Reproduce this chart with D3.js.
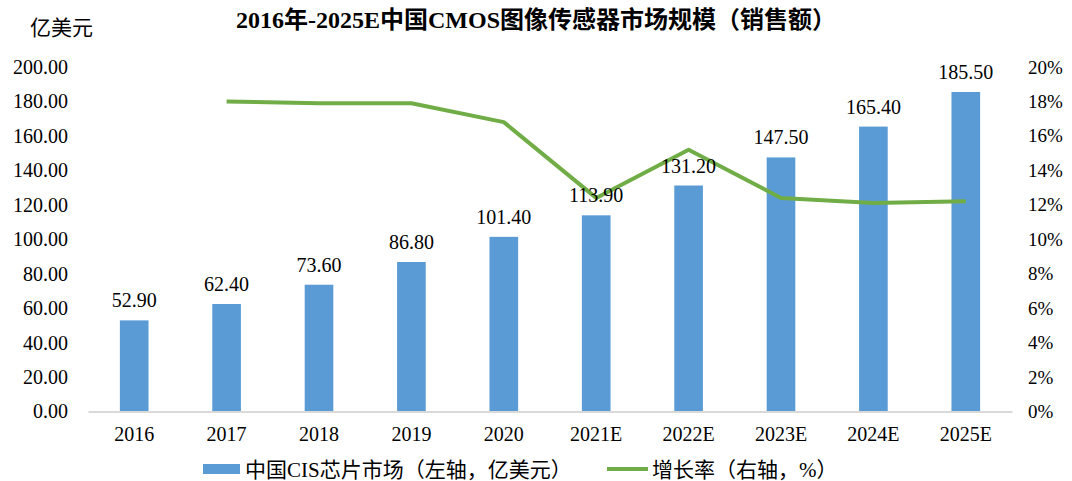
<!DOCTYPE html>
<html>
<head>
<meta charset="utf-8">
<script src="https://cdn.jsdelivr.net/npm/d3@7"></script>
<style>
  body { margin: 0; background: #fff; }
</style>
</head>
<body>
<svg id="chart"></svg>
<script>
var years = ["2016", "2017", "2018", "2019", "2020", "2021E", "2022E", "2023E", "2024E", "2025E"];
var sales = [52.9, 62.4, 73.6, 86.8, 101.4, 113.9, 131.2, 147.5, 165.4, 185.5];
var growth = [null, 18.0, 17.9, 17.9, 16.8, 12.4, 15.2, 12.4, 12.1, 12.2];
var leftTicks = [0, 20, 40, 60, 80, 100, 120, 140, 160, 180, 200];
var rightTicks = [0, 2, 4, 6, 8, 10, 12, 14, 16, 18, 20];

var FONT = "'Liberation Serif', 'Noto Sans CJK SC', serif";
var W = 1072, H = 481;
var margin = {top: 67, right: 60, bottom: 70, left: 88},
    width = W - margin.left - margin.right,
    height = 411.5 - margin.top;

var svg = d3.select("#chart").attr("width", W).attr("height", H)
  .style("font-family", FONT);
var g = svg.append("g").attr("transform", "translate(" + margin.left + "," + margin.top + ")");

var x = d3.scaleBand().domain(years).range([0, width]).paddingInner(0.69).paddingOuter(0.345);
var y = d3.scaleLinear().domain([0, 200]).range([height, 0]);
var y2 = d3.scaleLinear().domain([0, 20]).range([height, 0]);

// title
svg.append("text")
  .attr("x", W / 2).attr("y", 28)
  .attr("text-anchor", "middle")
  .style("font-size", "24px").style("font-weight", "bold")
  .text("2016年-2025E中国CMOS图像传感器市场规模（销售额）");

svg.append("text")
  .attr("x", 30).attr("y", 35)
  .style("font-size", "21px")
  .text("亿美元");

// left axis
var yAxis = g.append("g")
  .call(d3.axisLeft(y).tickValues(leftTicks).tickFormat(d3.format(".2f")).tickSize(0).tickPadding(20));
yAxis.attr("font-family", null).attr("font-size", null);
yAxis.select(".domain").remove();
yAxis.selectAll("text").style("font-size", "20px").style("font-family", FONT).attr("fill", "#000");

// right axis
var y2Axis = g.append("g")
  .attr("transform", "translate(" + width + ",0)")
  .call(d3.axisRight(y2).tickValues(rightTicks).tickFormat(d => d + "%").tickSize(0).tickPadding(16));
y2Axis.attr("font-family", null).attr("font-size", null);
y2Axis.select(".domain").remove();
y2Axis.selectAll("text").style("font-size", "19px").style("font-family", FONT).attr("fill", "#000");

// bars
g.selectAll(".bar")
  .data(years)
  .enter().append("rect")
  .attr("class", "bar")
  .attr("fill", "#5B9BD5")
  .attr("x", d => x(d))
  .attr("width", x.bandwidth())
  .attr("y", (d, i) => y(sales[i]))
  .attr("height", (d, i) => height - y(sales[i]));

// baseline + x axis
var xAxis = g.append("g")
  .attr("transform", "translate(0," + height + ")")
  .call(d3.axisBottom(x).tickSize(0).tickPadding(15));
xAxis.attr("font-family", null).attr("font-size", null);
xAxis.select(".domain").attr("stroke", "#d9d9d9").attr("stroke-width", 2);
xAxis.selectAll("text").style("font-size", "20px").style("font-family", FONT).attr("fill", "#000");

// line
var pts = years.map((d, i) => ({year: d, v: growth[i]})).filter(p => p.v != null);
g.append("path")
  .datum(pts)
  .attr("fill", "none")
  .attr("stroke", "#70AD47")
  .attr("stroke-width", 4)
  .attr("stroke-linejoin", "round")
  .attr("d", d3.line().x(p => x(p.year) + x.bandwidth() / 2).y(p => y2(p.v)));

// bar labels
g.selectAll(".lbl")
  .data(years)
  .enter().append("text")
  .attr("class", "lbl")
  .attr("text-anchor", "middle")
  .style("font-size", "20px")
  .attr("x", d => x(d) + x.bandwidth() / 2)
  .attr("y", (d, i) => y(sales[i]) - 13)
  .text((d, i) => sales[i].toFixed(2));

// legend
var lg = svg.append("g");
lg.append("rect").attr("x", 203).attr("y", 464).attr("width", 37).attr("height", 10).attr("fill", "#5B9BD5");
lg.append("text").attr("x", 245).attr("y", 477).style("font-size", "21px").text("中国CIS芯片市场（左轴，亿美元）");
lg.append("line").attr("x1", 607).attr("x2", 648).attr("y1", 469).attr("y2", 469)
  .attr("stroke", "#70AD47").attr("stroke-width", 4);
lg.append("text").attr("x", 652).attr("y", 477).style("font-size", "21px").text("增长率（右轴，%）");
</script>
</body>
</html>
